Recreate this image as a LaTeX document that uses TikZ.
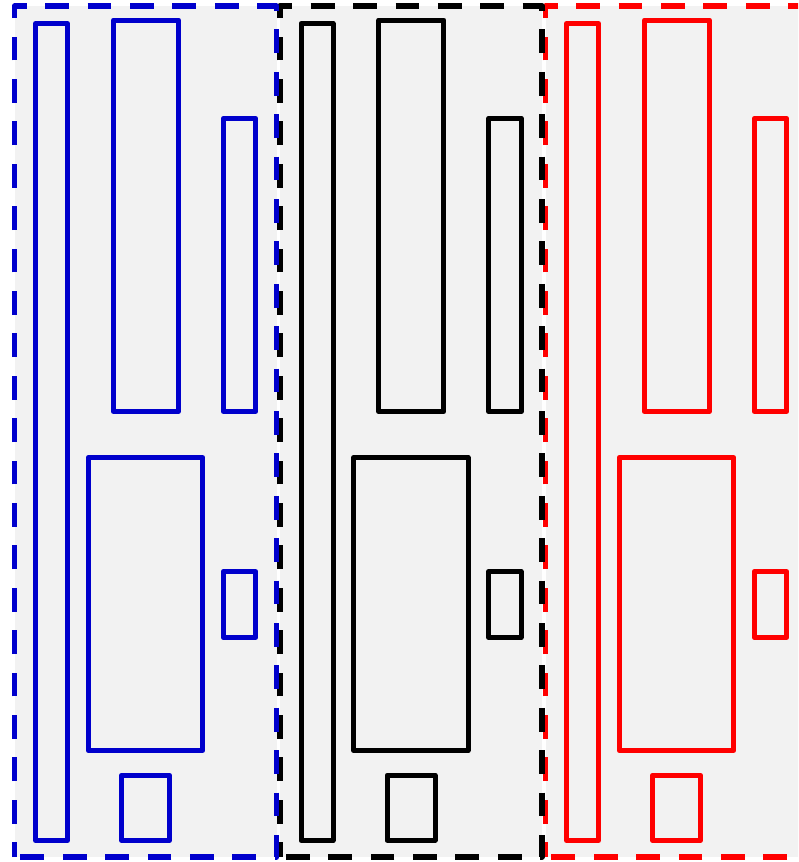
\documentclass[tikz,border=0pt]{standalone}
\definecolor{pblue}{RGB}{0,0,204}
\definecolor{pred}{RGB}{255,0,0}
\definecolor{pfill}{RGB}{242,242,242}
\tikzset{
  panelframe/.style={fill=pfill, line width=5.8pt, dash pattern=on 23.8pt off 18.6pt, dash phase=9pt, line join=round},
  partbox/.style={line width=5pt, line join=round}
}
\begin{document}
\begin{tikzpicture}[x=1pt,y=-1pt]
\useasboundingbox (0,0) rectangle (798,862);
\clip (0,0) rectangle (798,862);
\foreach \off/\col in {531/pred, 265.5/black, 0/pblue} {
  \begin{scope}[xshift=\off pt]
    \draw[panelframe, draw=\col] (14.5,857) -- (14.5,6.3) -- (276.5,6.3) -- (276.5,857) -- cycle;
    \draw[partbox, draw=\col] (35.5,23.5) rectangle (67.5,840.5);
    \draw[partbox, draw=\col] (113.3,20) rectangle (178.4,411.5);
    \draw[partbox, draw=\col] (223.3,118.2) rectangle (255.7,411.5);
    \draw[partbox, draw=\col] (88.2,457.5) rectangle (202.6,750.5);
    \draw[partbox, draw=\col] (223.2,571.5) rectangle (255.6,637.5);
    \draw[partbox, draw=\col] (121.5,775.2) rectangle (169.5,840.2);
  \end{scope}
}
\end{tikzpicture}
\end{document}
